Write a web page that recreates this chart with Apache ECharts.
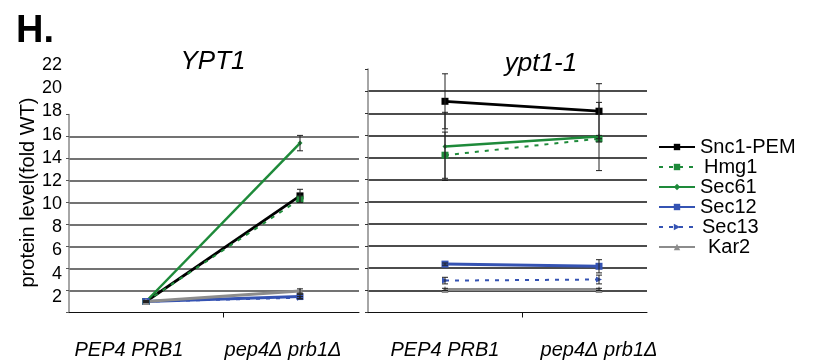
<!DOCTYPE html>
<html>
<head>
<meta charset="utf-8">
<script src="https://cdn.jsdelivr.net/npm/echarts@6/dist/echarts.min.js"></script>
<style>
  html, body { margin: 0; padding: 0; background: #fff; }
  #chart { width: 813px; height: 362px; }
</style>
</head>
<body>
<div id="chart"></div>
<script>
// strains on the x axis
const categories = ['PEP4 PRB1', 'pep4Δ prb1Δ'];
const yTicks = [0, 2, 4, 6, 8, 10, 12, 14, 16, 18, 20, 22];

// YPT1 panel (fold WT) and error
const snc1Wt = [1.0, 10.6];
const snc1WtErr = [0.05, 0.6];
const hmg1Wt = [1.0, 10.3];
const hmg1WtErr = [0.05, 0.3];
const sec61Wt = [1.0, 15.4];
const sec61WtErr = [0.05, 0.7];
const sec12Wt = [1.0, 1.45];
const sec12WtErr = [0.05, 0.2];
const sec13Wt = [1.0, 1.35];
const sec13WtErr = [0.05, 0.1];
const kar2Wt = [1.0, 1.95];
const kar2WtErr = [0.05, 0.2];

// ypt1-1 panel
const snc1Mut = [19.2, 18.3];
const snc1MutErr = [2.5, 2.5];
const hmg1Mut = [14.3, 15.8];
const hmg1MutErr = [2.1, 0.3];
const sec61Mut = [15.1, 16.0];
const sec61MutErr = [3.1, 3.1];
const sec12Mut = [4.4, 4.2];
const sec12MutErr = [0.1, 0.6];
const sec13Mut = [2.9, 3.0];
const sec13MutErr = [0.3, 0.4];
const kar2Mut = [2.1, 2.1];
const kar2MutErr = [0.1, 0.1];

const styles = [
  { name: 'Snc1-PEM', color: '#000000', type: 'solid', width: 2.8, symbol: 'rect', size: 7, wt: snc1Wt, wtErr: snc1WtErr, mut: snc1Mut, mutErr: snc1MutErr },
  { name: 'Hmg1', color: '#1e8a3a', type: [4, 6], width: 2, symbol: 'rect', size: 7, wt: hmg1Wt, wtErr: hmg1WtErr, mut: hmg1Mut, mutErr: hmg1MutErr },
  { name: 'Sec61', color: '#1e8a3a', type: 'solid', width: 2.5, symbol: 'diamond', size: 5, wt: sec61Wt, wtErr: sec61WtErr, mut: sec61Mut, mutErr: sec61MutErr },
  { name: 'Sec12', color: '#3553b3', type: 'solid', width: 3, symbol: 'rect', size: 7, wt: sec12Wt, wtErr: sec12WtErr, mut: sec12Mut, mutErr: sec12MutErr },
  { name: 'Sec13', color: '#3553b3', type: [4, 6], width: 2, symbol: 'triangle', size: 6, wt: sec13Wt, wtErr: sec13WtErr, mut: sec13Mut, mutErr: sec13MutErr },
  { name: 'Kar2', color: '#8c8c8c', type: 'solid', width: 3, symbol: 'triangle', size: 7, wt: kar2Wt, wtErr: kar2WtErr, mut: kar2Mut, mutErr: kar2MutErr },
];

const chart = echarts.init(document.getElementById('chart'));
const font = 'Liberation Sans, Arial, sans-serif';

function errorBars(values, errs) {
  return values.map((v, i) => [categories[i], v - errs[i], v + errs[i]]);
}

function renderError(params, api) {
  const low = api.coord([api.value(0), api.value(1)]);
  const high = api.coord([api.value(0), api.value(2)]);
  const cap = 3;
  const st = { stroke: '#222', lineWidth: 1 };
  return {
    type: 'group',
    children: [
      { type: 'line', shape: { x1: low[0], y1: low[1], x2: high[0], y2: high[1] }, style: st },
      { type: 'line', shape: { x1: low[0] - cap, y1: low[1], x2: low[0] + cap, y2: low[1] }, style: st },
      { type: 'line', shape: { x1: high[0] - cap, y1: high[1], x2: high[0] + cap, y2: high[1] }, style: st },
    ],
  };
}

const series = [];
styles.forEach((s) => {
  [['wt', 2], ['mut', 3]].forEach(([key, axis]) => {
    series.push({
      name: s.name,
      type: 'line',
      xAxisIndex: axis,
      yAxisIndex: axis,
      data: s[key],
      symbol: s.symbol,
      symbolSize: s.size,
      symbolRotate: s.name === 'Sec13' ? -90 : 0,
      color: s.color,
      lineStyle: { color: s.color, width: s.width, type: s.type },
      itemStyle: { color: s.color },
      z: 3,
    });
    series.push({
      type: 'custom',
      xAxisIndex: axis,
      yAxisIndex: axis,
      renderItem: renderError,
      data: errorBars(s[key], s[key + 'Err']),
      z: 4,
      silent: true,
    });
  });
});

const option = {
  animation: false,
  title: [
    { text: 'H.', left: 11, top: 8, textStyle: { fontFamily: font, fontSize: 38, fontWeight: 'bold', color: '#000' } },
    { text: 'YPT1', left: 208, top: 44, textAlign: 'center', textStyle: { fontFamily: font, fontSize: 26, fontStyle: 'italic', fontWeight: 'normal', color: '#000' } },
    { text: 'ypt1-1', left: 536, top: 46, textAlign: 'center', textStyle: { fontFamily: font, fontSize: 26, fontStyle: 'italic', fontWeight: 'normal', color: '#000' } },
  ],
  legend: {
    orient: 'vertical',
    left: 653,
    top: 132,
    itemWidth: 36,
    itemHeight: 8,
    itemGap: 0,
    textStyle: { fontFamily: font, fontSize: 20, color: '#000', lineHeight: 20 },
    data: [
      { name: 'Snc1-PEM' },
      { name: 'Hmg1', textStyle: { padding: [0, 0, 0, 4] } },
      { name: 'Sec61' },
      { name: 'Sec12' },
      { name: 'Sec13', textStyle: { padding: [0, 0, 0, 2] } },
      { name: 'Kar2', textStyle: { padding: [0, 0, 0, 8] } },
    ],
  },
  grid: [
    { left: 69, top: 114.5, width: 290, height: 198 },   // left frame
    { left: 368, top: 69, width: 279, height: 243.5 },   // right frame
    { left: 69, top: 70.5, width: 308, height: 242 },    // left data
    { left: 368, top: 70.5, width: 308, height: 242 },   // right data
    { left: 69, top: 65, width: 10, height: 255 },       // shared tick labels
  ],
  xAxis: [
    {
      type: 'value', gridIndex: 0, min: 0, max: 290 / 154, interval: 1,
      axisLine: { lineStyle: { color: '#111', width: 1 } },
      axisTick: { customValues: [1], length: 5, lineStyle: { color: '#111' } },
      axisLabel: { show: false }, splitLine: { show: false },
    },
    {
      type: 'value', gridIndex: 1, min: 0, max: 279 / 154, interval: 1,
      axisLine: { lineStyle: { color: '#111', width: 1 } },
      axisTick: { customValues: [1], length: 5, lineStyle: { color: '#111' } },
      axisLabel: { show: false }, splitLine: { show: false },
    },
    {
      type: 'category', gridIndex: 2, data: categories,
      axisLine: { show: false }, axisTick: { show: false },
      axisLabel: { margin: 28, padding: [0, 34, 0, 0], fontFamily: font, fontSize: 20, fontStyle: 'italic', color: '#000' },
    },
    {
      type: 'category', gridIndex: 3, data: categories,
      axisLine: { show: false }, axisTick: { show: false },
      axisLabel: { margin: 28, fontFamily: font, fontSize: 20, fontStyle: 'italic', color: '#000' },
    },
    { type: 'value', gridIndex: 4, show: false },
  ],
  yAxis: [
    {
      type: 'value', gridIndex: 0, min: 0, max: 18, interval: 2,
      axisLine: { show: true, lineStyle: { color: '#888', width: 1.5 } },
      axisTick: { show: true, length: 3, lineStyle: { color: '#555' } },
      axisLabel: { show: false },
      splitLine: { show: true, showMinLine: false, showMaxLine: false, lineStyle: { color: '#444', width: 1.5 } },
    },
    {
      type: 'value', gridIndex: 1, min: 0, max: 22, interval: 2,
      axisLine: { show: true, lineStyle: { color: '#888', width: 1.5 } },
      axisTick: { show: true, length: 3, lineStyle: { color: '#333' } },
      axisLabel: { show: false },
      splitLine: { show: true, showMinLine: false, showMaxLine: false, lineStyle: { color: '#111', width: 1.5 } },
    },
    { type: 'value', gridIndex: 2, min: 0, max: 22, show: false },
    { type: 'value', gridIndex: 3, min: 0, max: 22, show: false },
    {
      type: 'value', gridIndex: 4, min: 0, max: 22, interval: 2,
      axisLine: { show: false }, axisTick: { show: false }, splitLine: { show: false },
      axisLabel: {
        margin: 7, fontFamily: font, fontSize: 18, color: '#000',
        formatter: (v) => (v === 0 ? '' : String(v)),
      },
      name: 'protein level(fold WT)',
      nameLocation: 'middle',
      nameGap: 26,
      nameTextStyle: { fontFamily: font, fontSize: 20, color: '#000' },
    },
  ],
  series: series,
};

chart.setOption(option);
window.addEventListener('resize', () => {
  chart.resize();
});
</script>
</body>
</html>
